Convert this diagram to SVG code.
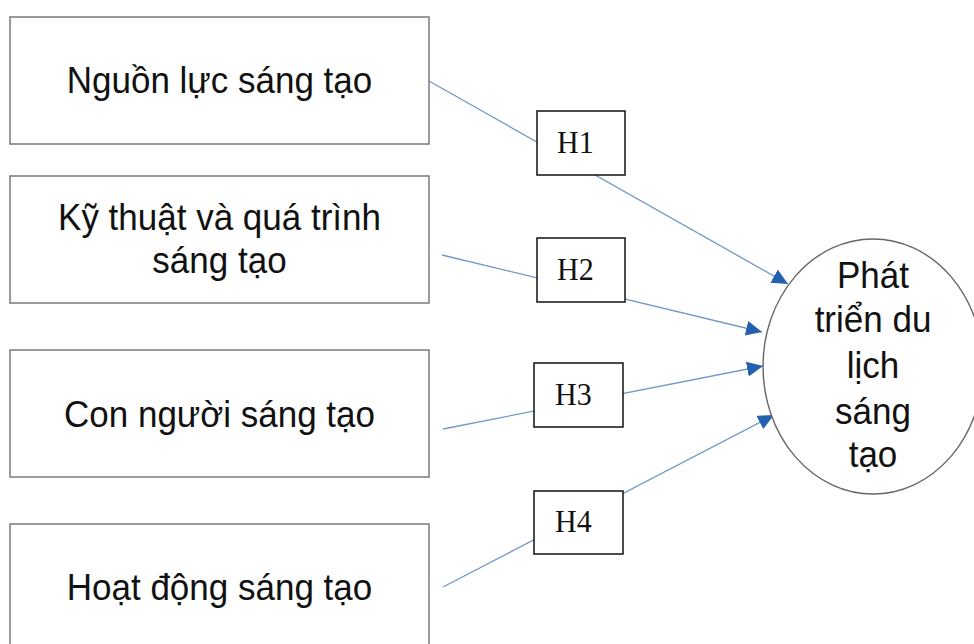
<svg xmlns="http://www.w3.org/2000/svg" width="974" height="644" viewBox="0 0 974 644">
<style>
.box{fill:#fff;stroke:#7a7a7a;stroke-width:1.5}
.hbox{fill:#fff;stroke:#111;stroke-width:1.5}
.ell{fill:#fff;stroke:#666;stroke-width:1.4}
.t{font-family:"Liberation Sans",Arial,sans-serif;font-size:35px;fill:#111;text-anchor:middle}
.h{font-family:"Liberation Serif","Times New Roman",serif;font-size:30px;fill:#111}
.con{stroke:#6f9ac9;stroke-width:1.3;fill:none}
</style>
<defs>
<marker id="arr" markerUnits="userSpaceOnUse" markerWidth="18" markerHeight="16" refX="16" refY="7.5" orient="auto">
<path d="M0,0 L16,7.5 L0,15 z" fill="#2360ad"/>
</marker>
</defs>
<rect width="974" height="644" fill="#fff"/>
<g id="connectors">
<line class="con" x1="429" y1="81" x2="788" y2="284" marker-end="url(#arr)"/>
<line class="con" x1="442" y1="255" x2="762" y2="332" marker-end="url(#arr)"/>
<line class="con" x1="443" y1="429" x2="763" y2="366" marker-end="url(#arr)"/>
<line class="con" x1="443" y1="587" x2="774" y2="415" marker-end="url(#arr)"/>
</g>
<g id="n1"><rect class="box" x="10" y="17" width="419" height="127"/><text class="t" x="219.5" y="93" transform="matrix(1,0,0,1.05,0,-4.65)">Nguồn lực sáng tạo</text></g>
<g id="n2"><rect class="box" x="10" y="176" width="419" height="127"/><text class="t" x="219.5" y="230" transform="matrix(1,0,0,1.05,0,-11.5)">Kỹ thuật và quá trình</text><text class="t" x="219.5" y="273" transform="matrix(1,0,0,1.05,0,-13.65)">sáng tạo</text></g>
<g id="n3"><rect class="box" x="10" y="350" width="419" height="127"/><text class="t" x="219.5" y="427" transform="matrix(1,0,0,1.05,0,-21.35)">Con người sáng tạo</text></g>
<g id="n4"><rect class="box" x="10" y="524" width="419" height="127"/><text class="t" x="219.5" y="600" transform="matrix(1,0,0,1.05,0,-30)">Hoạt động sáng tạo</text></g>
<g id="h1"><rect class="hbox" x="537" y="111" width="88" height="64"/><text class="h" x="557" y="153" transform="matrix(1,0,0,1.05,0,-7.65)">H1</text></g>
<g id="h2"><rect class="hbox" x="537" y="238" width="88" height="64"/><text class="h" x="557" y="280" transform="matrix(1,0,0,1.05,0,-14)">H2</text></g>
<g id="h3"><rect class="hbox" x="534" y="363" width="89" height="64"/><text class="h" x="555" y="405" transform="matrix(1,0,0,1.05,0,-20.25)">H3</text></g>
<g id="h4"><rect class="hbox" x="534" y="491" width="89" height="63"/><text class="h" x="555" y="532" transform="matrix(1,0,0,1.05,0,-26.6)">H4</text></g>
<g id="target"><ellipse class="ell" cx="873" cy="366.5" rx="110" ry="127.5"/>
<text class="t" x="873" y="288" transform="matrix(1,0,0,1.05,0,-14.4)">Phát</text>
<text class="t" x="873" y="332" transform="matrix(1,0,0,1.05,0,-16.6)">triển du</text>
<text class="t" x="873" y="378" transform="matrix(1,0,0,1.05,0,-18.9)">lịch</text>
<text class="t" x="873" y="424" transform="matrix(1,0,0,1.05,0,-21.2)">sáng</text>
<text class="t" x="873" y="467" transform="matrix(1,0,0,1.05,0,-23.35)">tạo</text>
</g>
</svg>
